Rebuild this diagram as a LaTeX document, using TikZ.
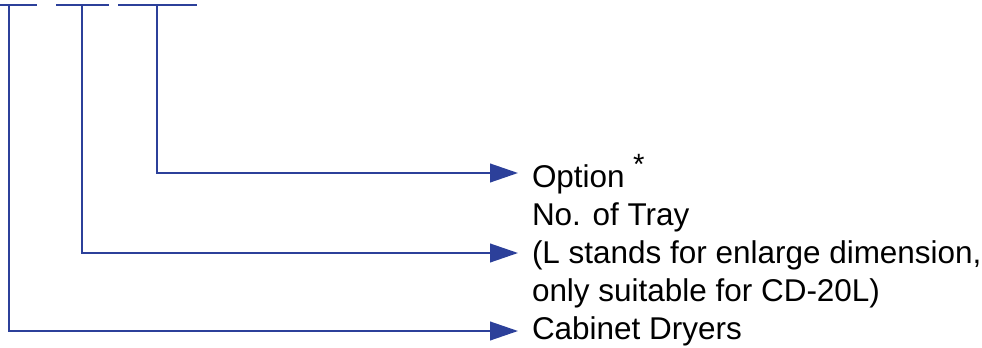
\documentclass[tikz,border=0pt]{standalone}
\usepackage{fontspec}
\setmainfont{Liberation Sans}
\usetikzlibrary{arrows.meta}

\definecolor{codeblue}{RGB}{44,64,154}
\tikzset{every picture/.style={line width=1.5pt}}
\tikzset{
  bar/.style={draw=codeblue, line width=1.5pt},
  conn/.style={draw=codeblue, line width=1.5pt, -{Triangle[length=21pt, width=14pt, fill=codeblue]}},
  lbl/.style={anchor=base west, inner sep=0pt, font=\fontsize{23.6}{28.5}\selectfont},
}

\begin{document}
\begin{tikzpicture}[x=0.75pt,y=0.75pt,yscale=-1,xscale=1]
\path[use as bounding box] (0,0) rectangle (982,347);

%Code Bars
\draw[bar] (0,5) -- (37,5) ;
\draw[bar] (56,5) -- (109,5) ;
\draw[bar] (118,5) -- (197,5) ;
\coordinate (top1) at (9,5);
\coordinate (top2) at (82,5);
\coordinate (top3) at (157,5);

% Text Node
\node[lbl] (opt) at (531,187) {Option};
% Text Node
\node[lbl, font=\fontsize{22}{26}\selectfont] (ast) at (632,174) {*};
% Text Node
\node[lbl] (tray) at (531,225) {No. of Tray};
% Text Node
\node[lbl] (ldim) at (531,263) {(L stands for enlarge dimension,};
% Text Node
\node[lbl] (suit) at (531,301) {only suitable for CD-20L)};
% Text Node
\node[lbl] (cab) at (531,339) {Cabinet Dryers};

%Arrow Ends
\coordinate (optin) at (518,173);
\coordinate (ldimin) at (518,253);
\coordinate (cabin) at (518,331);

%Connectors
\draw[conn] (top3) |- (optin) ;
\draw[conn] (top2) |- (ldimin) ;
\draw[conn] (top1) |- (cabin) ;
\end{tikzpicture}
\end{document}
